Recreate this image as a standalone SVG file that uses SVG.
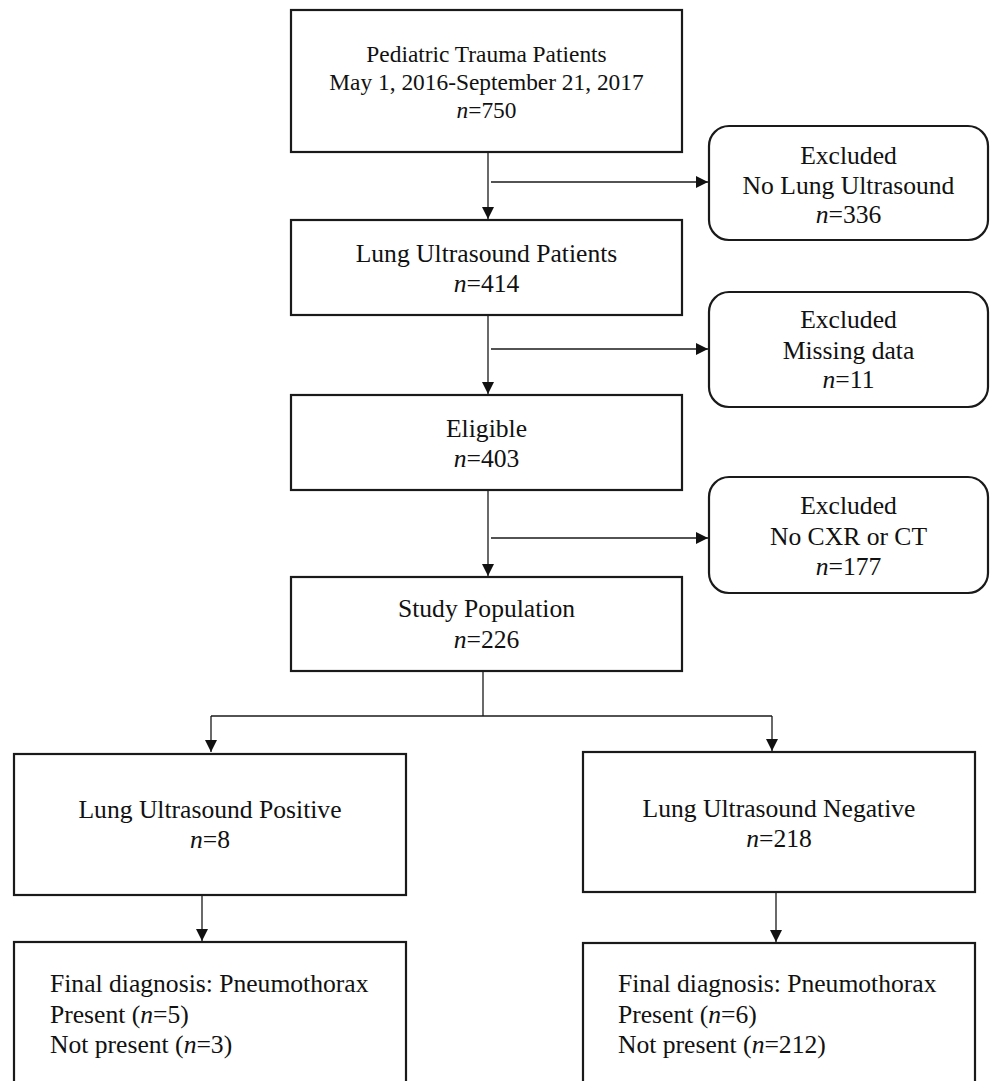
<svg xmlns="http://www.w3.org/2000/svg" width="990" height="1081" viewBox="0 0 990 1081">
  <style>
    .box { fill: #ffffff; stroke: #1a1a1a; stroke-width: 2.2; }
    .conn { fill: none; stroke: #1a1a1a; stroke-width: 1.3; }
    text { font-family: "Liberation Serif", "Times New Roman", serif; fill: #111111; font-size: 25.6px; }
    .c { text-anchor: middle; }
    .small { font-size: 23.4px; }
    .i { font-style: italic; }
  </style>
  <defs>
    <marker id="arrow" markerUnits="userSpaceOnUse" markerWidth="13" markerHeight="12" refX="12" refY="6" orient="auto">
      <path d="M0,0 L12,6 L0,12 z" fill="#111111"/>
    </marker>
  </defs>
  <rect width="990" height="1081" fill="#ffffff"/>

  <g id="connectors">
    <line class="conn" x1="488" y1="152" x2="488" y2="219" marker-end="url(#arrow)"/>
    <line class="conn" x1="491" y1="182" x2="708" y2="182" marker-end="url(#arrow)"/>
    <line class="conn" x1="488" y1="315" x2="488" y2="394" marker-end="url(#arrow)"/>
    <line class="conn" x1="491" y1="349" x2="708" y2="349" marker-end="url(#arrow)"/>
    <line class="conn" x1="488" y1="490" x2="488" y2="576" marker-end="url(#arrow)"/>
    <line class="conn" x1="491" y1="538" x2="708" y2="538" marker-end="url(#arrow)"/>
    <line class="conn" x1="483" y1="671" x2="483" y2="716"/>
    <polyline class="conn" points="211,716 772,716"/>
    <line class="conn" x1="211" y1="716" x2="211" y2="752" marker-end="url(#arrow)"/>
    <line class="conn" x1="772" y1="716" x2="772" y2="751" marker-end="url(#arrow)"/>
    <line class="conn" x1="202" y1="892" x2="202" y2="941" marker-end="url(#arrow)"/>
    <line class="conn" x1="776" y1="890" x2="776" y2="942" marker-end="url(#arrow)"/>
  </g>

  <g id="node-trauma">
    <rect class="box" x="291" y="10" width="391" height="142"/>
    <text class="c small" x="486.5" y="62">Pediatric Trauma Patients</text>
    <text class="c small" x="486.5" y="90">May 1, 2016-September 21, 2017</text>
    <text class="c small" x="486.5" y="118"><tspan class="i">n</tspan>=750</text>
  </g>

  <g id="node-excluded-1">
    <rect class="box" x="709" y="126" width="279" height="114" rx="20" ry="20"/>
    <text class="c" x="848.5" y="164">Excluded</text>
    <text class="c" x="848.5" y="194">No Lung Ultrasound</text>
    <text class="c" x="848.5" y="223"><tspan class="i">n</tspan>=336</text>
  </g>

  <g id="node-lus-patients">
    <rect class="box" x="291" y="220" width="391" height="95"/>
    <text class="c" x="486.5" y="262">Lung Ultrasound Patients</text>
    <text class="c" x="486.5" y="292"><tspan class="i">n</tspan>=414</text>
  </g>

  <g id="node-excluded-2">
    <rect class="box" x="709" y="292" width="279" height="115" rx="20" ry="20"/>
    <text class="c" x="848.5" y="328">Excluded</text>
    <text class="c" x="848.5" y="359">Missing data</text>
    <text class="c" x="848.5" y="388"><tspan class="i">n</tspan>=11</text>
  </g>

  <g id="node-eligible">
    <rect class="box" x="291" y="395" width="391" height="95"/>
    <text class="c" x="486.5" y="437">Eligible</text>
    <text class="c" x="486.5" y="467"><tspan class="i">n</tspan>=403</text>
  </g>

  <g id="node-excluded-3">
    <rect class="box" x="709" y="477" width="279" height="116" rx="20" ry="20"/>
    <text class="c" x="848.5" y="514">Excluded</text>
    <text class="c" x="848.5" y="545">No CXR or CT</text>
    <text class="c" x="848.5" y="575"><tspan class="i">n</tspan>=177</text>
  </g>

  <g id="node-study-population">
    <rect class="box" x="291" y="577" width="391" height="94"/>
    <text class="c" x="486.5" y="617">Study Population</text>
    <text class="c" x="486.5" y="648"><tspan class="i">n</tspan>=226</text>
  </g>

  <g id="node-lus-positive">
    <rect class="box" x="14" y="754" width="392" height="141"/>
    <text class="c" x="210" y="818">Lung Ultrasound Positive</text>
    <text class="c" x="210" y="848"><tspan class="i">n</tspan>=8</text>
  </g>

  <g id="node-lus-negative">
    <rect class="box" x="583" y="752" width="392" height="140"/>
    <text class="c" x="779" y="817">Lung Ultrasound Negative</text>
    <text class="c" x="779" y="847"><tspan class="i">n</tspan>=218</text>
  </g>

  <g id="node-final-positive">
    <rect class="box" x="14" y="942" width="392" height="160"/>
    <text x="50" y="992">Final diagnosis: Pneumothorax</text>
    <text x="50" y="1023">Present (<tspan class="i">n</tspan>=5)</text>
    <text x="50" y="1053">Not present (<tspan class="i">n</tspan>=3)</text>
  </g>

  <g id="node-final-negative">
    <rect class="box" x="583" y="943" width="392" height="160"/>
    <text x="618" y="992">Final diagnosis: Pneumothorax</text>
    <text x="618" y="1023">Present (<tspan class="i">n</tspan>=6)</text>
    <text x="618" y="1053">Not present (<tspan class="i">n</tspan>=212)</text>
  </g>
</svg>
